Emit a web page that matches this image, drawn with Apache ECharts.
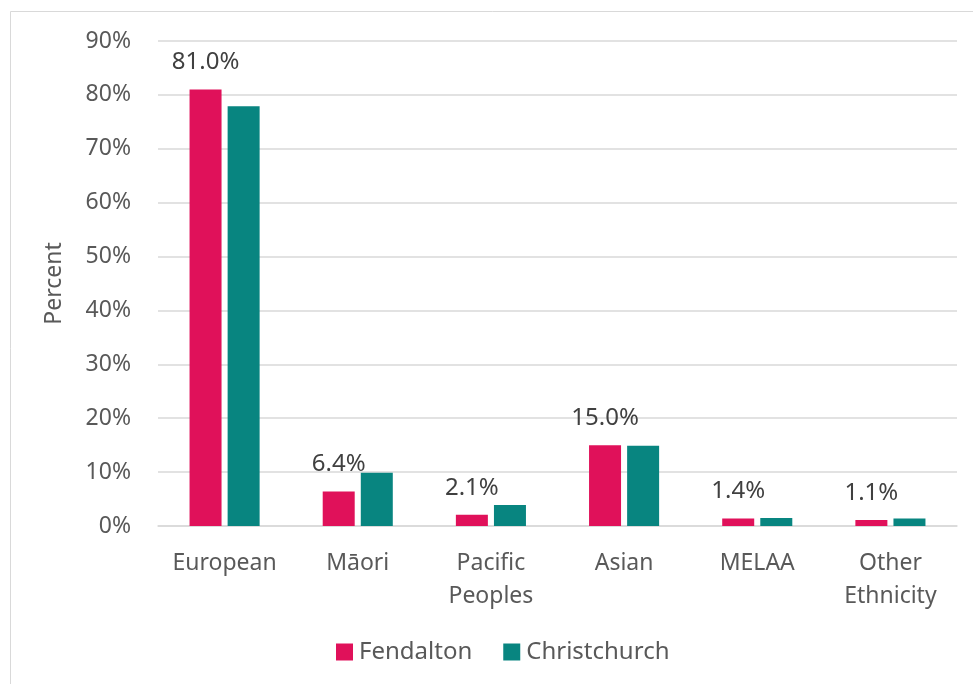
<!DOCTYPE html>
<html>
<head>
<meta charset="utf-8">
<script src="https://cdn.jsdelivr.net/npm/echarts@6/dist/echarts.min.js"></script>
<style>
  html, body { margin: 0; padding: 0; background: #fff; }
  #chart { width: 973px; height: 684px; }
</style>
</head>
<body>
<div id="chart"></div>
<script>
// ethnic groups, percent of population
const categories = ['European', 'Māori', 'Pacific\nPeoples', 'Asian', 'MELAA', 'Other\nEthnicity']
const fendalton = [81.0, 6.4, 2.1, 15.0, 1.4, 1.1]
const christchurch = [77.9, 9.9, 3.9, 14.9, 1.5, 1.4]
const yTicks = [0, 10, 20, 30, 40, 50, 60, 70, 80, 90]

const font = 'Noto Sans'
const chart = echarts.init(document.getElementById('chart'))

const option = {
  backgroundColor: '#fff',
  animation: false,
  textStyle: { fontFamily: font },
  graphic: [{
    type: 'rect',
    shape: { x: 10.5, y: 11.5, width: 1000, height: 700 },
    style: { fill: 'none', stroke: '#d9d9d9', lineWidth: 1 },
    silent: true
  }],
  grid: { left: 158, right: 16, top: 41, bottom: 158 },
  legend: {
    bottom: 15,
    left: 331,
    itemWidth: 17,
    itemHeight: 17,
    itemGap: 31,
    icon: 'rect',
    textStyle: { fontSize: 24, color: '#595959', fontFamily: font, padding: [0, 0, 0, 1] },
    data: ['Fendalton', 'Christchurch']
  },
  xAxis: {
    type: 'category',
    data: categories,
    axisTick: { show: false },
    axisLine: { lineStyle: { color: '#d9d9d9', width: 1.5 } },
    axisLabel: { fontSize: 23, color: '#595959', margin: 21, lineHeight: 33, interval: 0 }
  },
  yAxis: {
    type: 'value',
    min: yTicks[0],
    max: yTicks[yTicks.length - 1],
    interval: 10,
    name: 'Percent',
    nameLocation: 'middle',
    nameGap: 92,
    nameTextStyle: { fontSize: 23, color: '#595959' },
    axisLine: { show: false },
    axisTick: { show: false },
    splitLine: { lineStyle: { color: '#d9d9d9', width: 1.5 } },
    axisLabel: { fontSize: 23, color: '#595959', margin: 27, formatter: v => v + '%' }
  },
  series: [
    {
      name: 'Fendalton',
      type: 'bar',
      data: fendalton,
      barWidth: 32,
      barGap: '19%',
      itemStyle: { color: '#e0115a' },
      label: {
        show: true,
        position: 'top',
        distance: 15,
        fontSize: 24,
        color: '#404040',
        formatter: p => p.value.toFixed(1) + '%'
      }
    },
    {
      name: 'Christchurch',
      type: 'bar',
      data: christchurch,
      barWidth: 32,
      itemStyle: { color: '#088580' }
    }
  ]
}

chart.setOption(option)
</script>
</body>
</html>
